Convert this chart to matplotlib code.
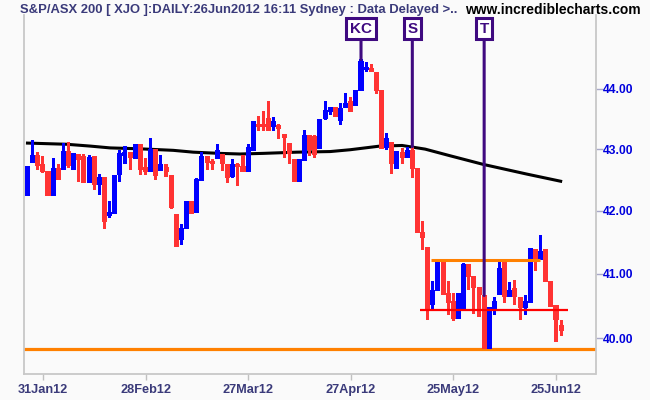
import matplotlib
matplotlib.use("Agg")
import matplotlib.pyplot as plt
from matplotlib.ticker import NullLocator
from matplotlib import font_manager

# ---------------- data ----------------
opens = [42.23, 42.77, 42.91, 42.75, 42.64, 42.24, 42.69, 42.65, 42.97, 42.66,
         42.92, 42.89, 42.45, 42.88, 42.42, 42.55, 41.91, 41.95, 42.58, 42.89,
         42.96, 42.84, 43.09, 42.71, 42.62, 43.00, 42.64, 42.71, 42.57, 41.95,
         41.53, 41.70, 42.16, 41.96, 42.48, 42.89, 42.80, 42.83, 42.92, 42.76,
         42.54, 42.76, 42.73, 42.62, 42.97, 43.41, 43.41, 43.52, 43.36, 43.40,
         43.25, 43.10, 42.83, 42.46, 42.80, 43.24, 43.22, 43.00, 43.50, 43.61,
         43.69, 43.46, 43.68, 43.79, 43.72, 43.96, 44.32, 44.36, 44.29, 43.98,
         43.02, 43.11, 42.68, 42.96, 42.85, 42.99, 42.69, 41.66, 41.42, 40.52,
         40.73, 41.21, 40.70, 40.57, 40.29, 40.43, 41.15, 40.97, 40.79, 40.66,
         39.83, 40.44, 40.67, 41.21, 40.64, 40.77, 40.64, 40.46, 40.55, 41.39,
         41.22, 41.39, 40.89, 40.52, 40.20]
highs = [42.73, 43.15, 42.95, 42.88, 42.64, 42.86, 42.76, 43.10, 43.12, 42.94,
         42.92, 42.92, 42.91, 42.88, 42.60, 42.55, 42.15, 42.58, 42.99, 43.05,
         42.96, 43.08, 43.09, 42.86, 43.19, 43.00, 42.91, 42.75, 42.57, 41.95,
         41.78, 42.15, 42.16, 42.53, 42.96, 42.89, 42.84, 43.09, 42.92, 42.76,
         42.83, 42.77, 42.90, 43.08, 43.47, 43.54, 43.63, 43.79, 43.53, 43.42,
         43.25, 43.10, 42.83, 42.83, 43.31, 43.24, 43.24, 43.50, 43.79, 43.69,
         43.69, 43.76, 43.94, 43.86, 43.98, 44.50, 44.45, 44.43, 44.29, 43.98,
         43.26, 43.11, 42.97, 43.02, 43.04, 43.04, 42.69, 41.84, 41.42, 40.89,
         41.21, 41.21, 40.89, 40.70, 40.70, 41.17, 41.15, 40.97, 40.79, 40.66,
         40.48, 40.63, 41.19, 41.21, 40.87, 40.90, 40.64, 40.66, 41.41, 41.39,
         41.61, 41.39, 40.89, 40.52, 40.28]
lows = [42.23, 42.77, 42.65, 42.61, 42.24, 42.24, 42.49, 42.65, 42.69, 42.66,
        42.46, 42.45, 42.45, 42.34, 42.26, 41.70, 41.88, 41.95, 42.46, 42.75,
        42.66, 42.84, 42.58, 42.58, 42.62, 42.49, 42.64, 42.55, 42.03, 41.42,
        41.46, 41.70, 41.94, 41.96, 42.48, 42.65, 42.65, 42.83, 42.64, 42.45,
        42.53, 42.40, 42.62, 42.62, 42.97, 43.30, 43.30, 43.30, 43.30, 43.17,
        42.86, 42.75, 42.46, 42.46, 42.80, 42.88, 42.86, 43.00, 43.48, 43.57,
        43.53, 43.39, 43.68, 43.61, 43.72, 43.96, 44.29, 44.28, 43.91, 43.00,
        42.98, 42.59, 42.68, 42.75, 42.85, 42.53, 41.64, 41.38, 40.28, 40.45,
        40.73, 40.67, 40.36, 40.26, 40.29, 40.43, 40.75, 40.37, 40.33, 39.83,
        39.83, 40.36, 40.67, 40.55, 40.64, 40.51, 40.28, 40.36, 40.55, 41.04,
        41.22, 40.87, 40.48, 39.94, 40.03]
closes = [42.73, 42.91, 42.72, 42.62, 42.24, 42.69, 42.50, 42.97, 42.72, 42.94,
          42.82, 42.45, 42.87, 42.42, 42.55, 41.82, 41.98, 42.58, 42.93, 42.96,
          42.85, 43.08, 42.66, 42.62, 43.00, 42.56, 42.75, 42.62, 42.05, 41.42,
          41.73, 42.15, 41.94, 42.51, 42.89, 42.77, 42.76, 42.98, 42.75, 42.53,
          42.76, 42.71, 42.62, 43.03, 43.46, 43.36, 43.36, 43.30, 43.46, 43.34,
          43.19, 42.92, 42.46, 42.83, 43.24, 42.99, 42.90, 43.50, 43.65, 43.69,
          43.53, 43.68, 43.77, 43.61, 43.98, 44.48, 44.37, 44.28, 43.96, 43.00,
          43.18, 42.75, 42.97, 42.85, 42.99, 42.67, 41.64, 41.56, 40.43, 40.75,
          41.21, 40.67, 40.55, 40.29, 40.70, 41.16, 40.95, 40.77, 40.67, 39.83,
          40.48, 40.58, 41.09, 40.64, 40.75, 40.64, 40.46, 40.58, 41.41, 41.22,
          41.36, 40.87, 40.48, 40.28, 40.11]

ma_idx = [-0.3, 7.6, 12.2, 16.1, 21.9, 28.4, 32.3, 37.5, 41.4, 45.9, 52.5,
          59.0, 62.9, 68.7, 73.0, 77.5, 82.4, 88.8, 97.4, 104.2]
ma_vals = [43.10, 43.08, 43.05, 43.02, 43.005, 42.98, 42.95, 42.93, 42.92, 42.93,
           42.95, 42.96, 42.99, 43.05, 43.06, 43.00, 42.89, 42.75, 42.59, 42.47]

xtick_idx = [3, 23, 43, 63, 83, 103]
xtick_labels = ["31Jan12", "28Feb12", "27Mar12", "27Apr12", "25May12", "25Jun12"]
ytick_vals = [40.0, 41.0, 42.0, 43.0, 44.0]

support_level = 39.84
range_top = 41.21
range_top_span = (78.6, 99.9)
mid_level = 40.44
mid_span = (76.5, 105.3)
marker_names = ["KC", "S", "T"]
marker_idx = [65, 75, 89]

title_left = "S&P/ASX 200 [ XJO ]:DAILY:26Jun2012 16:11 Sydney : Data Delayed >.."
title_right = "www.incrediblecharts.com"

# ---------------- styling ----------------
names = {f.name for f in font_manager.fontManager.ttflist}
narrow = "Liberation Sans Narrow" if "Liberation Sans Narrow" in names else "Liberation Sans"
BG = "#FAFAFA"
UP = "#0000FF"
DN = "#FF3333"
PURPLE = "#3F0A80"
ORANGE = "#FF8000"
TXT = "#3A3A7A"

W, H = 650, 400
fig = plt.figure(figsize=(6.5, 4.0), dpi=100, facecolor=BG)
left_px, right_px, top_px, bot_px = 24, 595.5, 15, 374
ax = fig.add_axes([left_px / W, 1 - bot_px / H, (right_px - left_px) / W,
                   (bot_px - top_px) / H])
ax.set_facecolor(BG)
ax.set_yscale("log")
ax.set_xlim(-0.68, 110.7)
ax.set_ylim(39.458, 45.262)

# moving average (under candles)
ax.plot(ma_idx, ma_vals, color="black", lw=2.2, zorder=2, solid_capstyle="butt")

# support line (under candles)
ax.axhline(support_level, color=ORANGE, lw=2.3, zorder=1.5)

# candles
for i, (o, h, l, c) in enumerate(zip(opens, highs, lows, closes)):
    col = UP if c >= o else DN
    ax.bar(i, h - l, bottom=l, width=0.6, color=col, linewidth=0, zorder=3)
    lo_b, hi_b = min(o, c), max(o, c)
    if hi_b - lo_b < 0.03:
        hi_b = lo_b + 0.03
    ax.bar(i, hi_b - lo_b, bottom=lo_b, width=0.98, color=col, linewidth=0, zorder=3)

# range lines
ax.hlines(range_top, *range_top_span, color=ORANGE, lw=2.2, zorder=4)
ax.hlines(mid_level, *mid_span, color="#FF0000", lw=1.6, zorder=4)

# vertical markers with labels
for name, idx in zip(marker_names, marker_idx):
    ax.annotate(name, xy=(idx, highs[idx]), xycoords="data",
                xytext=(idx, 0.962), textcoords=ax.get_xaxis_transform(),
                ha="center", va="center", fontsize=11, fontweight="bold",
                family=narrow, color=PURPLE, annotation_clip=False,
                bbox=dict(boxstyle="square,pad=0.24", fc="white", ec=PURPLE, lw=2.2),
                arrowprops=dict(arrowstyle="-", color=PURPLE, lw=2.2,
                                shrinkA=0, shrinkB=0), zorder=5)

# axes styling
for s in ["left", "right", "bottom"]:
    ax.spines[s].set_color("#C8C8C8")
    ax.spines[s].set_linewidth(1.3)
ax.spines["top"].set_visible(False)

ax.yaxis.tick_right()
ax.set_yticks(ytick_vals)
ax.set_yticklabels([f"{v:.2f}" for v in ytick_vals])
ax.yaxis.set_minor_locator(NullLocator())
ax.tick_params(axis="y", direction="out", length=5, width=1, color="#A8A8C8",
               pad=0.5, labelsize=8.7, labelcolor="#0000DD")
for lab in ax.get_yticklabels():
    lab.set_fontweight("bold")
    lab.set_family("Liberation Sans")

ax.set_xticks(xtick_idx)
ax.set_xticklabels(xtick_labels)
ax.xaxis.set_minor_locator(NullLocator())
ax.tick_params(axis="x", direction="out", length=4, width=1, color="#C0C0C0",
               pad=3.5, labelsize=9.2, labelcolor=TXT)
for lab in ax.get_xticklabels():
    lab.set_fontweight("bold")
    lab.set_family(narrow)

t1 = fig.text(20.5 / W, 1 - 10 / H, title_left, ha="left", va="center", fontsize=10,
              fontweight="bold", family=narrow, color=TXT)
t2 = fig.text(641 / W, 1 - 10 / H, title_right, ha="right", va="center", fontsize=10,
              fontweight="bold", family="Liberation Sans", color="black")

# fit header texts to the widths they take in the reference
renderer = fig.canvas.get_renderer()
for t, target in ((t1, 440.0), (t2, 176.0)):
    w = t.get_window_extent(renderer).width
    t.set_fontsize(t.get_fontsize() * target / w)

fig.savefig("out.png", dpi=100, facecolor=BG)
